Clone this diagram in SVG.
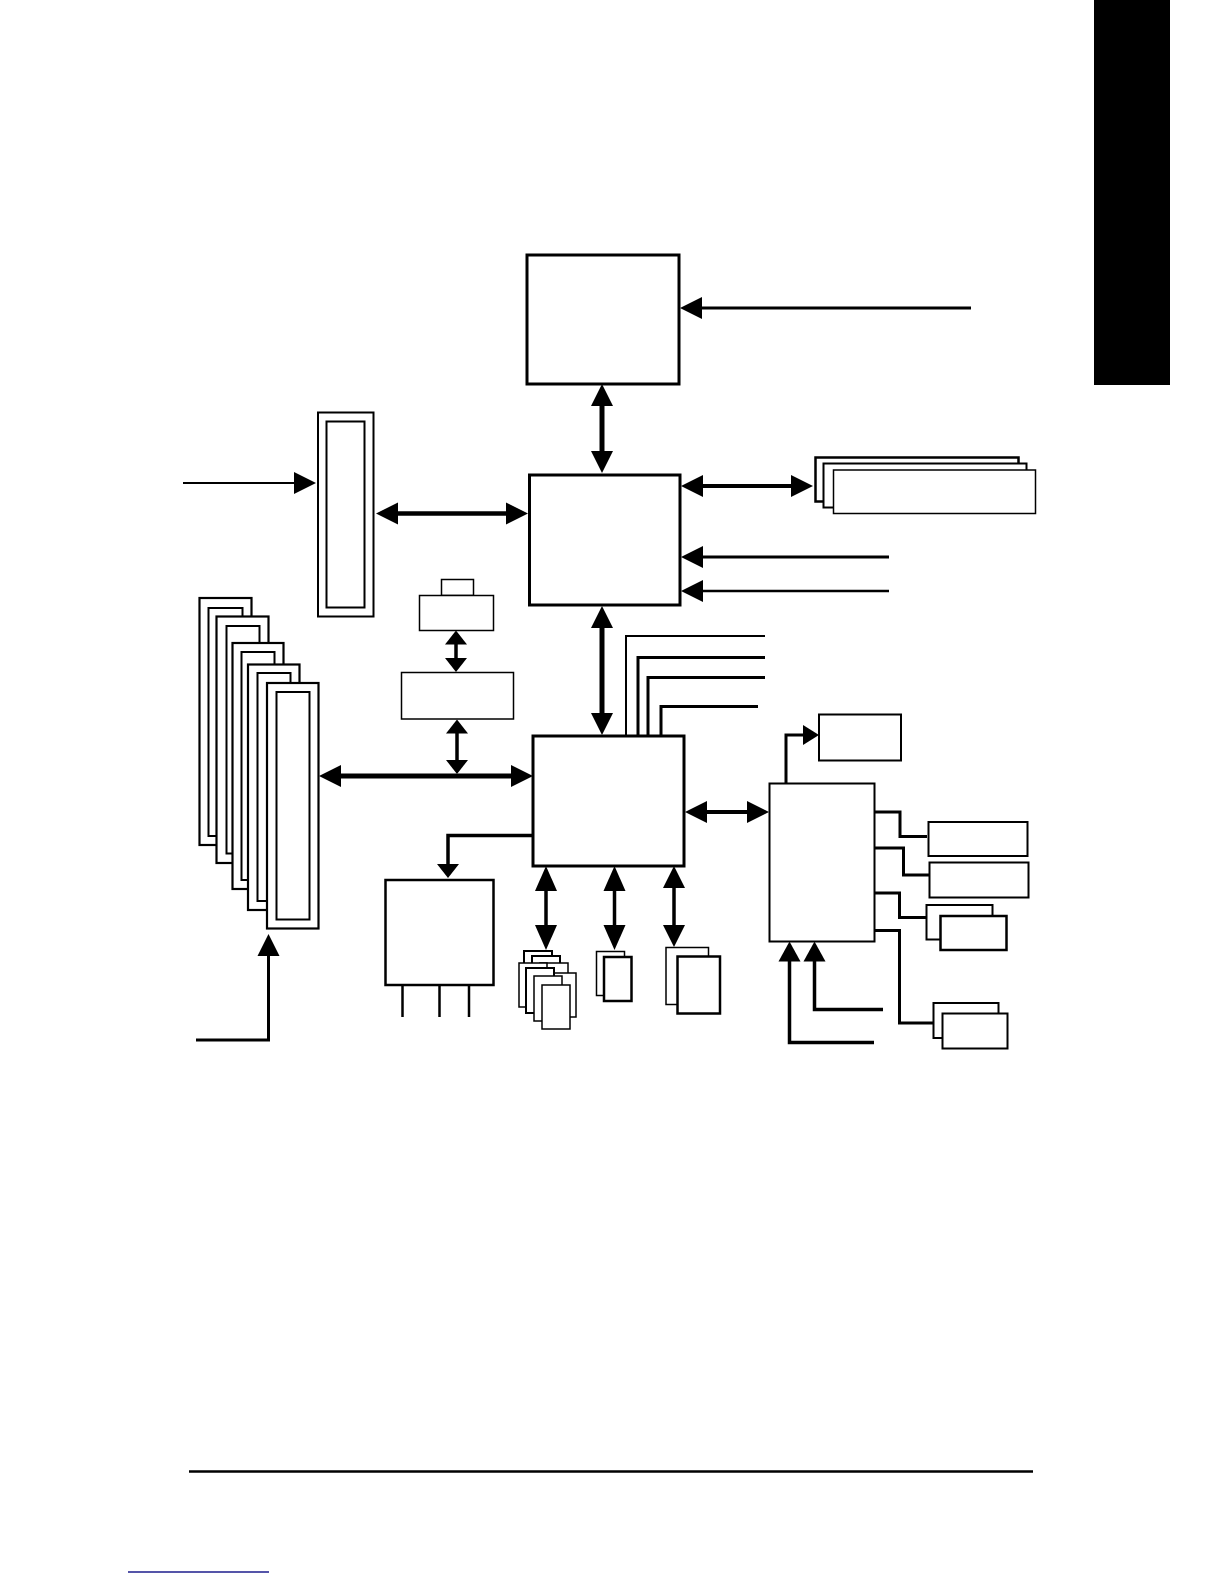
<svg xmlns="http://www.w3.org/2000/svg" xmlns:xlink="http://www.w3.org/1999/xlink" width="1224" height="1584" viewBox="0 0 1224 1584">
<style>
.box{fill:#fff;stroke:#000}
.ln{fill:none;stroke:#000;stroke-linecap:butt;stroke-linejoin:miter}
.hd{fill:#000}
</style>
<defs>
<path id="h22" d="M0,0 L-22,-11 L-22,11 Z"/>
<path id="h25" d="M0,0 L-25,-11 L-25,11 Z"/>
<path id="h20" d="M0,0 L-20,-11 L-20,11 Z"/>
<path id="h14" d="M0,0 L-14,-11 L-14,11 Z"/>
<path id="h16" d="M0,0 L-16,-10 L-16,10 Z"/>
</defs>
<rect width="1224" height="1584" fill="#fff"/>

<g id="side-tab"><rect x="1094" y="0" width="76" height="385" fill="#000"/></g>

<g id="cpu"><rect class="box" x="527" y="255" width="152" height="129" stroke-width="3"/></g>
<g id="northbridge"><rect class="box" x="529.5" y="475" width="150.5" height="130" stroke-width="3"/></g>
<g id="agp-stack">
<rect class="box" x="815.5" y="457.5" width="203" height="44" stroke-width="2.5"/>
<rect class="box" x="823.5" y="463.5" width="203" height="44" stroke-width="2"/>
<rect class="box" x="833.5" y="470" width="202" height="43.5" stroke-width="1.5"/>
</g>
<g id="agp-slot">
<rect class="box" x="318" y="412.5" width="55.5" height="204" stroke-width="2"/>
<rect class="box" x="326.5" y="421.5" width="38" height="186" stroke-width="2"/>
</g>
<g id="bios">
<rect class="box" x="441.5" y="579.5" width="32" height="16" stroke-width="1.5"/>
<rect class="box" x="419.5" y="595.5" width="74" height="35" stroke-width="1.5"/>
</g>
<g id="pci-bridge"><rect class="box" x="401.5" y="672.5" width="112" height="46.5" stroke-width="1.5"/></g>
<g id="pci-slots">
<rect class="box" x="199.5" y="598" width="52" height="247" stroke-width="2.2"/>
<rect class="box" x="208.5" y="608" width="34" height="228" stroke-width="2"/>
<rect class="box" x="216.5" y="616.5" width="52" height="246.5" stroke-width="2.2"/>
<rect class="box" x="226.5" y="626" width="33" height="227.5" stroke-width="2"/>
<rect class="box" x="232.5" y="643" width="51" height="246" stroke-width="2.2"/>
<rect class="box" x="241.5" y="652" width="33" height="228" stroke-width="2"/>
<rect class="box" x="248" y="664.5" width="51.5" height="245.5" stroke-width="2.2"/>
<rect class="box" x="257.5" y="673" width="33" height="228" stroke-width="2"/>
<rect class="box" x="267" y="683" width="51.5" height="245.5" stroke-width="2.2"/>
<rect class="box" x="276.5" y="692" width="33" height="227.5" stroke-width="2"/>
</g>
<g id="southbridge"><rect class="box" x="533" y="736" width="151" height="130" stroke-width="3"/></g>
<g id="codec">
<rect class="box" x="385.5" y="880" width="108" height="105" stroke-width="2.5"/>
<line class="ln" x1="402.5" y1="985" x2="402.5" y2="1017" stroke-width="2.5"/>
<line class="ln" x1="439.5" y1="985" x2="439.5" y2="1017" stroke-width="2.5"/>
<line class="ln" x1="469" y1="985" x2="469" y2="1017" stroke-width="2.5"/>
</g>
<g id="usb-stack">
<rect class="box" x="524" y="951" width="28" height="44" stroke-width="2"/>
<rect class="box" x="532" y="956" width="28" height="44" stroke-width="2"/>
<rect class="box" x="540" y="963" width="28" height="44" stroke-width="1.5"/>
<rect class="box" x="519" y="963" width="28" height="44" stroke-width="1.5"/>
<rect class="box" x="548" y="973" width="28" height="44" stroke-width="1.5"/>
<rect class="box" x="526" y="968" width="28" height="45" stroke-width="2"/>
<rect class="box" x="534" y="976" width="28" height="45" stroke-width="1.5"/>
<rect class="box" x="542" y="985" width="28" height="44" stroke-width="1.5"/>
</g>
<g id="ide-stack">
<rect class="box" x="596.5" y="951.5" width="28" height="44" stroke-width="1.5"/>
<rect class="box" x="604" y="957" width="27.5" height="44" stroke-width="2.5"/>
</g>
<g id="sata-stack">
<rect class="box" x="666" y="947.5" width="42.5" height="57" stroke-width="1.5"/>
<rect class="box" x="677.5" y="956.5" width="42.5" height="57" stroke-width="2.5"/>
</g>
<g id="superio"><rect class="box" x="769.5" y="783.5" width="105" height="158" stroke-width="2"/></g>
<g id="lpc-box"><rect class="box" x="819" y="714.5" width="82" height="46" stroke-width="2"/></g>
<g id="io-1"><rect class="box" x="928.5" y="822" width="99" height="34" stroke-width="2"/></g>
<g id="io-2"><rect class="box" x="929.5" y="862.5" width="99" height="35" stroke-width="2"/></g>
<g id="io-3">
<rect class="box" x="926.5" y="905" width="66" height="34.5" stroke-width="2"/>
<rect class="box" x="940.5" y="916" width="66" height="34" stroke-width="2.5"/>
</g>
<g id="io-4">
<rect class="box" x="933.5" y="1003" width="65" height="35" stroke-width="2"/>
<rect class="box" x="942.5" y="1013.5" width="65" height="35" stroke-width="2"/>
</g>

<g id="connectors">
<!-- CPU input -->
<line class="ln" x1="971" y1="308" x2="700" y2="308" stroke-width="3"/>
<use href="#h22" class="hd" transform="translate(680,308) rotate(180)"/>
<!-- CPU - NB -->
<line class="ln" x1="602" y1="405" x2="602" y2="452" stroke-width="5"/>
<use href="#h22" class="hd" transform="translate(602,384) rotate(-90)"/>
<use href="#h22" class="hd" transform="translate(602,473) rotate(90)"/>
<!-- NB - AGP -->
<line class="ln" x1="702" y1="486" x2="792" y2="486" stroke-width="4"/>
<use href="#h22" class="hd" transform="translate(681,486) rotate(180)"/>
<use href="#h22" class="hd" transform="translate(813,486)"/>
<!-- NB inputs -->
<line class="ln" x1="889" y1="557" x2="701" y2="557" stroke-width="3"/>
<use href="#h22" class="hd" transform="translate(681,557) rotate(180)"/>
<line class="ln" x1="889" y1="591" x2="701" y2="591" stroke-width="2.5"/>
<use href="#h22" class="hd" transform="translate(681,591) rotate(180)"/>
<!-- slot input -->
<line class="ln" x1="183" y1="483" x2="294" y2="483" stroke-width="2"/>
<use href="#h22" class="hd" transform="translate(316,483)"/>
<!-- slot - NB -->
<line class="ln" x1="397" y1="513.5" x2="507" y2="513.5" stroke-width="4.5"/>
<use href="#h22" class="hd" transform="translate(376,513.5) rotate(180)"/>
<use href="#h22" class="hd" transform="translate(528,513.5)"/>
<!-- NB - SB -->
<line class="ln" x1="602" y1="626" x2="602" y2="714" stroke-width="5"/>
<use href="#h22" class="hd" transform="translate(602,606) rotate(-90)"/>
<use href="#h22" class="hd" transform="translate(602,735) rotate(90)"/>
<!-- SB top lines -->
<polyline class="ln" points="626,736 626,636 765,636" stroke-width="2"/>
<polyline class="ln" points="638,736 638,657.5 765,657.5" stroke-width="3"/>
<polyline class="ln" points="648,736 648,677.5 765,677.5" stroke-width="3"/>
<polyline class="ln" points="661,736 661,706.5 758,706.5" stroke-width="3"/>
<!-- BIOS - bridge -->
<line class="ln" x1="456" y1="643" x2="456" y2="659" stroke-width="3.5"/>
<use href="#h14" class="hd" transform="translate(456,630.5) rotate(-90)"/>
<use href="#h14" class="hd" transform="translate(456,672) rotate(90)"/>
<!-- bridge - PCI bus -->
<line class="ln" x1="457" y1="732" x2="457" y2="761" stroke-width="3.5"/>
<use href="#h14" class="hd" transform="translate(457,719.5) rotate(-90)"/>
<use href="#h14" class="hd" transform="translate(457,774) rotate(90)"/>
<!-- PCI bus -->
<line class="ln" x1="339" y1="776" x2="512" y2="776" stroke-width="5"/>
<use href="#h22" class="hd" transform="translate(319,776) rotate(180)"/>
<use href="#h22" class="hd" transform="translate(533,776)"/>
<!-- PCI slot input -->
<polyline class="ln" points="196,1040 268.5,1040 268.5,955" stroke-width="3"/>
<use href="#h22" class="hd" transform="translate(268.5,934) rotate(-90)"/>
<!-- SB - codec -->
<polyline class="ln" points="533,835.5 448,835.5 448,865" stroke-width="3.5"/>
<use href="#h14" class="hd" transform="translate(448,878) rotate(90)"/>
<!-- SB bottom -->
<line class="ln" x1="546" y1="889" x2="546" y2="926" stroke-width="3.5"/>
<use href="#h25" class="hd" transform="translate(546,866) rotate(-90)"/>
<use href="#h25" class="hd" transform="translate(546,950) rotate(90)"/>
<line class="ln" x1="614.5" y1="889" x2="614.5" y2="926" stroke-width="3.5"/>
<use href="#h25" class="hd" transform="translate(614.5,866) rotate(-90)"/>
<use href="#h25" class="hd" transform="translate(614.5,950) rotate(90)"/>
<line class="ln" x1="674" y1="886" x2="674" y2="927" stroke-width="3.5"/>
<use href="#h22" class="hd" transform="translate(674,866) rotate(-90)"/>
<use href="#h22" class="hd" transform="translate(674,947) rotate(90)"/>
<!-- SB - SIO -->
<line class="ln" x1="705" y1="812" x2="748" y2="812" stroke-width="4"/>
<use href="#h22" class="hd" transform="translate(685,812) rotate(180)"/>
<use href="#h22" class="hd" transform="translate(769,812)"/>
<!-- SIO - LPC box -->
<polyline class="ln" points="786,783.5 786,735 804,735" stroke-width="3"/>
<use href="#h16" class="hd" transform="translate(819,735)"/>
<!-- SIO outputs -->
<polyline class="ln" points="874,812 900,812 900,836.5 927,836.5" stroke-width="3"/>
<polyline class="ln" points="874,848 903.5,848 903.5,875 929,875" stroke-width="3"/>
<polyline class="ln" points="874,893 899.5,893 899.5,917.5 926,917.5" stroke-width="3"/>
<polyline class="ln" points="874,930.5 899.5,930.5 899.5,1023 933,1023" stroke-width="3"/>
<!-- SIO inputs -->
<polyline class="ln" points="874,1042.5 789.5,1042.5 789.5,960" stroke-width="3.5"/>
<use href="#h20" class="hd" transform="translate(789.5,941.5) rotate(-90)"/>
<polyline class="ln" points="883,1009.5 814.5,1009.5 814.5,960" stroke-width="3.5"/>
<use href="#h20" class="hd" transform="translate(814.5,941.5) rotate(-90)"/>
</g>

<g id="footer">
<line x1="189" y1="1471.5" x2="1033" y2="1471.5" stroke="#000" stroke-width="2.5"/>
<line x1="128" y1="1572" x2="269" y2="1572" stroke="#1c1c8c" stroke-width="1.5"/>
</g>
</svg>
